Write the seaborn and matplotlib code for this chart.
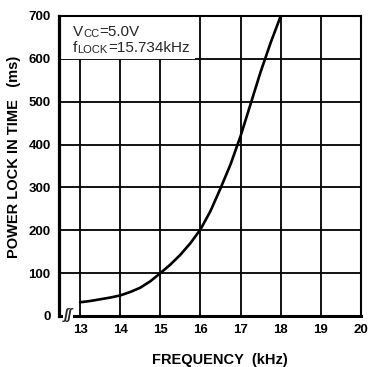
import matplotlib
matplotlib.use("Agg")
import matplotlib.pyplot as plt
import seaborn as sns
import pandas as pd
from matplotlib.patches import Rectangle

# ---- data ----
freq_khz = [13.0, 13.25, 13.5, 13.75, 14.0, 14.25, 14.5, 14.75, 15.0, 15.25,
            15.5, 15.75, 16.0, 16.25, 16.5, 16.75, 17.0, 17.25, 17.5, 17.75, 18.0]
lock_time_ms = [32, 35, 39, 43, 48, 56, 66, 81, 100, 120,
                143, 170, 202, 245, 298, 354, 420, 495, 570, 638, 700]
x_ticks = [13, 14, 15, 16, 17, 18, 19, 20]
y_ticks = [0, 100, 200, 300, 400, 500, 600, 700]

df = pd.DataFrame({"freq": freq_khz, "t": lock_time_ms})

sns.set_theme(style="white")
plt.rcParams["font.family"] = ["Liberation Sans", "DejaVu Sans"]

fig = plt.figure(figsize=(3.70, 3.67), dpi=100)
ax = fig.add_axes([59 / 370, 1 - 316 / 367, (361 - 59) / 370, (316 - 16) / 367])

ax.set_xlim(12.475, 20)
ax.set_ylim(0, 700)

# grid
for xv in x_ticks[:-1]:
    ax.axvline(xv, color="black", lw=1.3, zorder=1)
for yv in y_ticks[1:-1]:
    ax.axhline(yv, color="black", lw=1.3, zorder=1)

# white box behind the condition text
ax.add_patch(Rectangle((12.475, 600), 15.87 - 12.475, 100, facecolor="white",
                       edgecolor="none", zorder=2))

sns.lineplot(data=df, x="freq", y="t", ax=ax, color="black", lw=1.9,
             zorder=3, legend=False)


def sub_label(x, y, main, sub, rest):
    t1 = ax.text(x, y, main, fontsize=11, va="bottom", ha="left", zorder=4)
    t2 = ax.annotate(sub, xy=(1, 0), xycoords=t1, fontsize=8, va="bottom",
                     ha="left", zorder=4)
    ax.annotate(rest, xy=(1, 0), xycoords=t2, fontsize=11, va="bottom",
                ha="left", zorder=4)


sub_label(12.83, 646, "V", "CC", "=5.0V")
sub_label(12.83, 610, "f", "LOCK", "=15.734kHz")

for s in ax.spines.values():
    s.set_color("black")
    s.set_linewidth(1.5)
ax.spines["left"].set_linewidth(2.3)
ax.spines["bottom"].set_linewidth(2.2)

ax.set_xticks(x_ticks)
ax.set_yticks(y_ticks)
ax.set_xticklabels([str(v) for v in x_ticks], fontsize=9.5, fontweight="bold")
ax.set_yticklabels([str(v) for v in y_ticks], fontsize=9.5, fontweight="bold")
ax.tick_params(axis="both", length=0, colors="black")
ax.tick_params(axis="x", pad=6)
ax.tick_params(axis="y", pad=6)

ax.set_xlabel("FREQUENCY  (kHz)", fontsize=10.5, fontweight="bold",
              color="black")
ax.set_ylabel("POWER LOCK IN TIME   (ms)", fontsize=10.5, fontweight="bold",
              color="black")
ax.yaxis.set_label_coords(-0.126, 0.53)
ax.xaxis.set_label_coords(0.533, -0.123)

# axis break mark near the origin
ax.text(12.7, 2, "ʃʃ", fontsize=10, ha="center", va="center",
        fontstyle="italic", fontweight="bold", zorder=5, clip_on=False,
        bbox=dict(facecolor="white", edgecolor="none", pad=0.2))

fig.savefig("out.png", dpi=100)
